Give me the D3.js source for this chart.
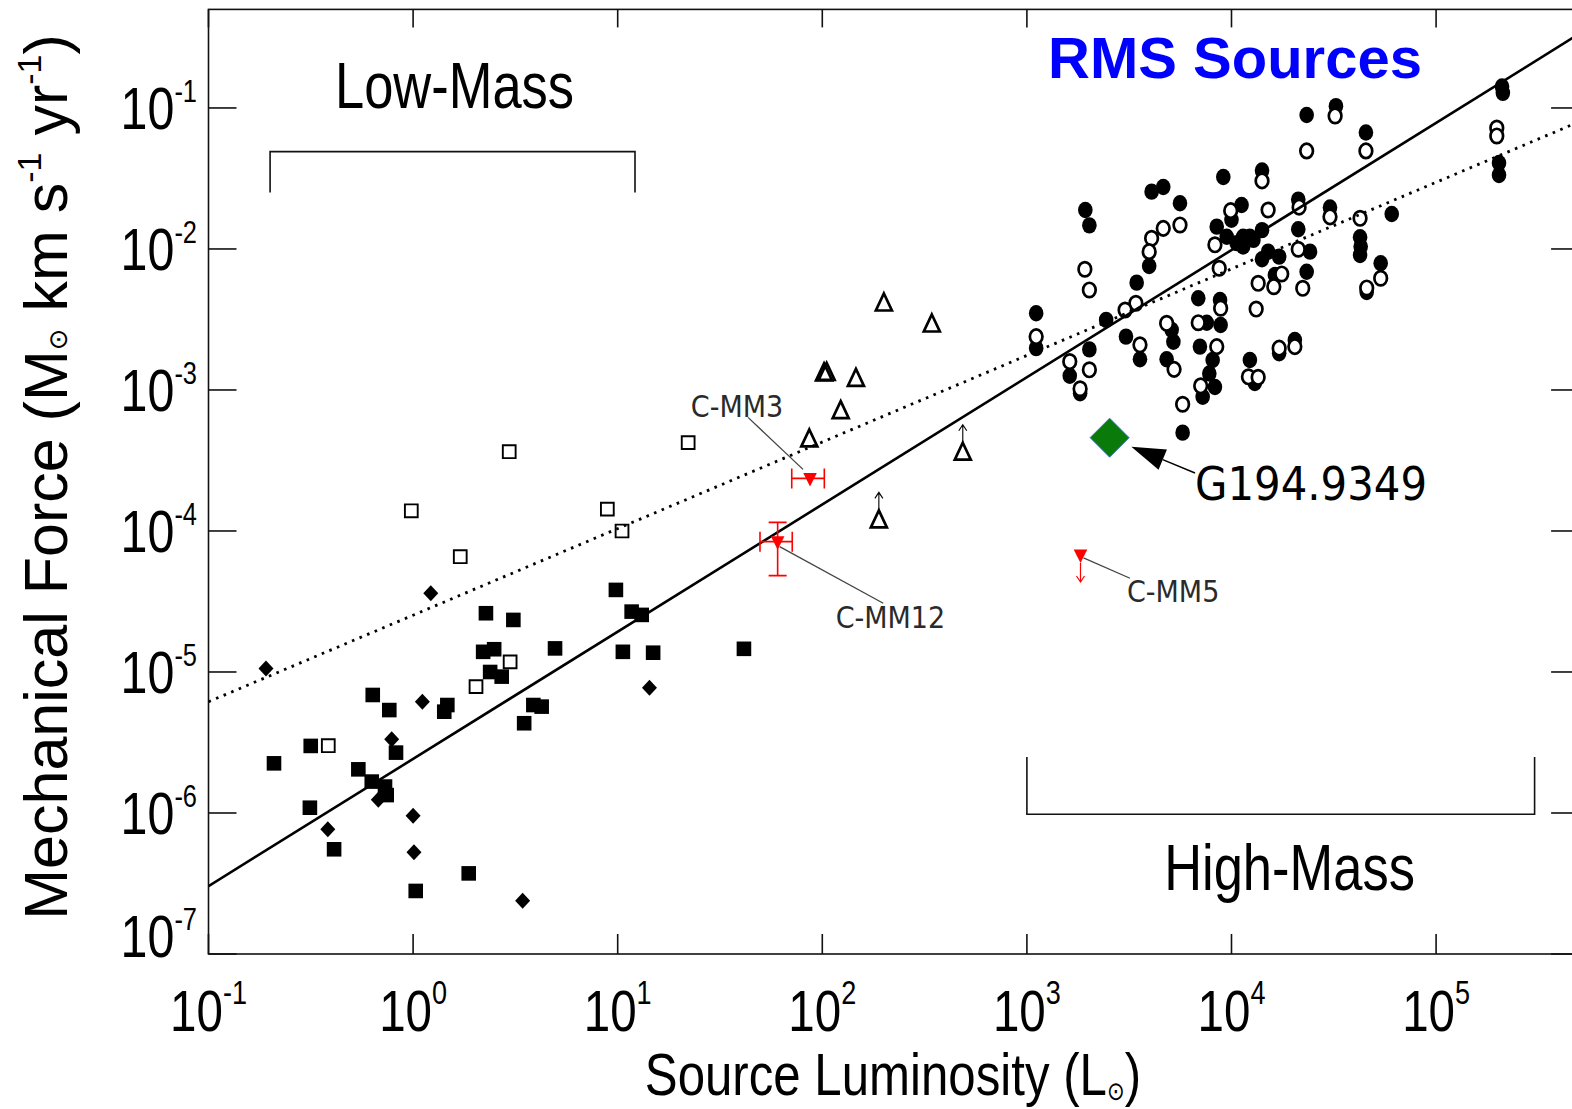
<!DOCTYPE html>
<html><head><meta charset="utf-8">
<script src="https://cdn.jsdelivr.net/npm/d3@7"></script>
<style>body{margin:0;background:#fff}svg{display:block}</style>
</head><body>
<svg id="c" width="1572" height="1109"></svg>
<script>
// ---------------- DATA ----------------
const xTickValues = [1e-1, 1e0, 1e1, 1e2, 1e3, 1e4, 1e5];
const yTickValues = [1e-7, 1e-6, 1e-5, 1e-4, 1e-3, 1e-2, 1e-1];

// Low-mass samples  [L (Lsun), F (Msun km/s/yr)]
const lowFilledSquares = [[9.8,3.82e-5],[11.7,2.68e-5],[13.1,2.54e-5],[10.6,1.39e-5],[14.9,1.37e-5],[2.27,2.61e-5],[3.09,2.34e-5],[2.20,1.39e-5],[2.49,1.45e-5],[2.38,1.0e-5],[2.71,9.27e-6],[4.94,1.47e-5],[0.635,6.87e-6],[0.765,5.37e-6],[1.42,5.23e-6],[1.47,5.83e-6],[3.87,5.83e-6],[4.25,5.68e-6],[3.49,4.33e-6],[0.316,2.99e-6],[0.209,2.25e-6],[0.825,2.68e-6],[0.540,2.04e-6],[0.628,1.67e-6],[0.729,1.54e-6],[0.743,1.34e-6],[0.313,1.09e-6],[0.411,5.53e-7],[1.87,3.73e-7],[1.03,2.80e-7],[41.4,1.46e-5]];
const lowOpenSquares = [[0.385,3.0e-6],[2.03,7.87e-6],[2.98,1.18e-5],[2.95,3.65e-4],[0.98,1.39e-4],[1.70,6.57e-5],[8.9,1.43e-4],[10.5,1.0e-4],[22.1,4.23e-4]];
const lowDiamonds = [[0.191,1.06e-5],[1.22,3.61e-5],[1.11,6.16e-6],[0.786,3.33e-6],[0.676,1.24e-6],[14.3,7.74e-6],[1.0,9.57e-7],[0.383,7.66e-7],[1.01,5.26e-7],[3.43,2.39e-7]];
// Intermediate-mass sample (open triangles), and lower limits
const midTriangles = [[200,4.07e-3],[343,2.89e-3],[105,1.31e-3],[102,1.30e-3],[146,1.19e-3],[123,7.02e-4],[86.4,4.42e-4]];
const midLowerLimits = [[486,3.56e-4],[189,1.18e-4]];

// RMS sources: filled and open circles
const rmsFilled = [[2.10e5,0.142],[2.12e5,0.128],[2.03e5,0.0407],[2.03e5,0.0335],[2.33e4,0.0892],[3.24e4,0.103],[4.54e4,0.0670],[9.12e3,0.0324],[1.41e4,0.0360],[4.07e3,0.0255],[4.64e3,0.0275],[5.60e3,0.0211],[1.93e3,0.0189],[2.02e3,0.0147],[2.12e4,0.0224],[3.03e4,0.0197],[6.07e4,0.0177],[4.25e4,0.0121],[4.28e4,0.0104],[4.25e4,0.00906],[5.36e4,0.00792],[4.58e4,0.00495],[1.12e4,0.0205],[8.47e3,0.0144],[9.48e3,0.0122],[1.06e4,0.0110],[1.14e4,0.0122],[1.28e4,0.0116],[1.41e4,0.0136],[1.23e4,0.0122],[1.14e4,0.0104],[2.12e4,0.0138],[2.42e4,0.00957],[1.51e4,0.00957],[1.71e4,0.00882],[1.41e4,0.00845],[1.63e4,0.00654],[2.33e4,0.00690],[3.96e3,0.00757],[3.44e3,0.00577],[2.44e3,0.00314],[1.11e3,0.00350],[1.11e3,0.00198],[2.02e3,0.00194],[1.62e3,0.00126],[1.82e3,0.000948],[3.05e3,0.00239],[3.57e3,0.00165],[5.10e3,0.00267],[5.20e3,0.00220],[4.82e3,0.00165],[6.88e3,0.00447],[7.57e3,0.00300],[8.79e3,0.00435],[8.85e3,0.00289],[7.01e3,0.00203],[8.09e3,0.00163],[7.79e3,0.00131],[8.30e3,0.00105],[7.23e3,0.000896],[5.77e3,0.000498],[1.23e4,0.00163],[1.30e4,0.00112],[1.71e4,0.00182],[2.04e4,0.00226],[1.00e4,0.0161]];
const rmsOpen = [[1.98e5,0.0721],[1.98e5,0.0633],[3.21e4,0.0878],[4.54e4,0.0496],[2.33e4,0.0496],[1.41e4,0.0304],[1.51e4,0.0189],[2.14e4,0.0198],[3.03e4,0.0169],[4.25e4,0.0165],[5.36e4,0.00620],[4.58e4,0.00529],[9.91e3,0.0187],[8.30e3,0.0107],[8.71e3,0.00730],[1.35e4,0.00571],[1.32e4,0.00375],[2.12e4,0.00995],[1.76e4,0.00665],[1.61e4,0.00540],[2.23e4,0.00526],[5.60e3,0.0148],[4.64e3,0.0140],[4.07e3,0.0119],[3.96e3,0.00957],[1.92e3,0.00718],[2.02e3,0.00512],[3.41e3,0.00412],[3.02e3,0.00369],[1.11e3,0.00239],[1.62e3,0.00159],[2.02e3,0.00139],[1.82e3,0.00102],[3.57e3,0.00209],[4.82e3,0.00297],[5.24e3,0.00140],[6.88e3,0.00300],[8.85e3,0.00380],[8.47e3,0.00203],[7.07e3,0.00107],[5.77e3,0.000792],[1.21e4,0.00124],[1.35e4,0.00123],[1.71e4,0.00198],[2.04e4,0.00203]];

// Red cores (this work)
const coreNames = ['C-MM3', 'C-MM12', 'C-MM5'];
const coreL     = [87.1, 60.5, 1828];
const coreF     = [2.36e-4, 8.4e-5, 6.76e-5];
const coreLerr  = [[70.9, 102.3], [49.6, 71.3], null];
const coreFerr  = [null, [4.82e-5, 1.15e-4], null];
const coreUpper = [false, false, true];

// Highlighted source
const g194Name = 'G194.9349';
const g194 = [2537, 4.59e-4];

// Fit lines (end points)
const fitSolid  = [[0.1, 3.03e-7], [5e5, 0.335]];
const fitDotted = [[0.1, 6.15e-6], [5e5, 0.0798]];

// Mass-regime brackets
const lowMassRange  = [0.2, 12.15];
const highMassRange = [1e3, 3.03e5];

// ---------------- CHART ----------------
const svg = d3.select('#c');
const X0 = 208.5, X1 = 1579.1, Y0 = 954, Y1 = 9.4;
const x = d3.scaleLog().domain([0.1, 5e5]).range([X0, X1]);
const y = d3.scaleLog().domain([1e-7, 0.5]).range([Y0, Y1]);

function hasFont(fam, expectedMax){
  const t = svg.append('text').attr('font-family', fam).attr('font-size', 100).text('0000000000');
  const w = t.node().getComputedTextLength(); t.remove(); return w < expectedMax;
}
const NAR = hasFont("'Liberation Sans Narrow'", 500);
const NF = NAR ? "'Liberation Sans Narrow'" : "'Liberation Sans', Arial, sans-serif";
const SX = NAR ? 1 : 0.82;
function ntext(parent, px, py, anchor, size){
  return parent.append('g').attr('transform', `translate(${px},${py}) scale(${SX},1)`)
    .append('text').attr('text-anchor', anchor).attr('font-family', NF)
    .attr('font-size', size).attr('fill', '#000');
}

svg.append('rect').attr('width', 1572).attr('height', 1109).attr('fill', '#fff');

svg.append('defs').append('clipPath').attr('id', 'clip')
  .append('rect').attr('x', X0).attr('y', Y1).attr('width', X1 - X0).attr('height', Y0 - Y1);

// Axes frame and ticks
const ax = svg.append('g').attr('stroke', '#111').attr('stroke-width', 1.6).attr('fill', 'none');
ax.append('rect').attr('x', X0).attr('y', Y1).attr('width', X1 - X0).attr('height', Y0 - Y1);
xTickValues.forEach(t => {
  const px = x(t);
  ax.append('line').attr('x1', px).attr('x2', px).attr('y1', Y0).attr('y2', Y0 - 20);
  ax.append('line').attr('x1', px).attr('x2', px).attr('y1', Y1).attr('y2', Y1 + 18);
});
yTickValues.forEach(t => {
  const py = y(t);
  ax.append('line').attr('x1', X0).attr('x2', X0 + 28).attr('y1', py).attr('y2', py);
  ax.append('line').attr('x1', X1).attr('x2', X1 - 28).attr('y1', py).attr('y2', py);
});

// Tick labels
xTickValues.forEach(t => {
  const e = Math.round(Math.log10(t));
  const tx = ntext(svg, x(t), 1031, 'middle', 58);
  tx.append('tspan').text('10');
  tx.append('tspan').attr('font-size', 33).attr('dy', -27).text(String(e));
});
yTickValues.forEach((t, i) => {
  const e = Math.round(Math.log10(t));
  const base = (i === 0) ? y(t) + 3 : y(t) + 21;
  const tx = ntext(svg, 197, base, 'end', 59);
  tx.append('tspan').text('10');
  tx.append('tspan').attr('font-size', 31).attr('dy', -27).text(String(e));
});

// Axis titles
const xt = ntext(svg, 893, 1095, 'middle', 60);
xt.append('tspan').text('Source Luminosity (L');
xt.append('tspan').attr('font-size', 26).attr('dy', 5).attr('font-family', "'DejaVu Sans'").text('\u2299');
xt.append('tspan').attr('dy', -5).text(')');

const yt = svg.append('text').attr('transform', 'translate(67,477) rotate(-90)')
  .attr('text-anchor', 'middle').attr('font-family', "'Liberation Sans', Arial, sans-serif")
  .attr('font-size', 61).attr('fill', '#000');
yt.append('tspan').text('Mechanical Force (M');
yt.append('tspan').attr('font-size', 26).attr('font-family', "'DejaVu Sans'").text('\u2299');
yt.append('tspan').text(' km s');
yt.append('tspan').attr('font-size', 34).attr('dy', -26).text('-1');
yt.append('tspan').attr('dy', 26).text(' yr');
yt.append('tspan').attr('font-size', 34).attr('dy', -26).text('-1');
yt.append('tspan').attr('dy', 26).text(')');

// Regime brackets and labels
const br = svg.append('g').attr('stroke', '#111').attr('stroke-width', 1.6).attr('fill', 'none');
br.append('path').attr('d', `M${x(lowMassRange[0])},${y(0.0251)}V${y(0.049)}H${x(lowMassRange[1])}V${y(0.0251)}`);
br.append('path').attr('d', `M${x(highMassRange[0])},${y(2.5e-6)}V${y(9.8e-7)}H${x(highMassRange[1])}V${y(2.5e-6)}`);
ntext(svg, 454.5, 108, 'middle', 64).text('Low-Mass');
ntext(svg, 1289.5, 890, 'middle', 64).text('High-Mass');

svg.append('text').attr('x', 1235).attr('y', 78).attr('text-anchor', 'middle')
  .attr('font-family', "'Liberation Sans', Arial, sans-serif").attr('font-weight', 'bold')
  .attr('font-size', 58).attr('fill', '#0000ff').text('RMS Sources');

// Markers
const plot = svg.append('g').attr('clip-path', 'url(#clip)');
const sq = s => `M${-s},${-s}H${s}V${s}H${-s}Z`;
const dia = (w, h) => `M0,${-h}L${w},0L0,${h}L${-w},0Z`;
const triUp = 'M0,-10.5L8,6.5L-8,6.5Z';
const triDown = 'M-6.8,-5.5L6.8,-5.5L0,8Z';
const tr = d => `translate(${x(d[0])},${y(d[1])})`;

plot.selectAll('.fs').data(lowFilledSquares).join('path').attr('d', sq(7.3)).attr('transform', tr).attr('fill', '#000');
plot.selectAll('.os').data(lowOpenSquares).join('path').attr('d', sq(6.4)).attr('transform', tr)
  .attr('fill', 'none').attr('stroke', '#000').attr('stroke-width', 1.9);
plot.selectAll('.dm').data(lowDiamonds).join('path').attr('d', dia(7.5, 8)).attr('transform', tr).attr('fill', '#000');
plot.selectAll('.tri').data(midTriangles.concat(midLowerLimits)).join('path').attr('d', triUp).attr('transform', tr)
  .attr('fill', 'none').attr('stroke', '#000').attr('stroke-width', 2.7).attr('stroke-linejoin', 'miter');
midLowerLimits.forEach(d => {
  const px = x(d[0]), py = y(d[1]) - 10.5;
  plot.append('path').attr('d', `M${px},${py}V${py - 18}M${px - 4},${py - 12}L${px},${py - 18}L${px + 4},${py - 12}`)
    .attr('fill', 'none').attr('stroke', '#000').attr('stroke-width', 1.1);
});

plot.selectAll('.rf').data(rmsFilled).join('ellipse').attr('cx', d => x(d[0])).attr('cy', d => y(d[1]))
  .attr('rx', 7.3).attr('ry', 8.2).attr('fill', '#000');
plot.selectAll('.ro').data(rmsOpen).join('ellipse').attr('cx', d => x(d[0])).attr('cy', d => y(d[1]))
  .attr('rx', 6.3).attr('ry', 7.2).attr('fill', '#fff').attr('stroke', '#000').attr('stroke-width', 2.7);

// Fit lines
const line = d3.line().x(d => x(d[0])).y(d => y(d[1]));
plot.append('path').attr('d', line(fitSolid)).attr('stroke', '#000').attr('stroke-width', 2.6).attr('fill', 'none');
plot.append('path').attr('d', line(fitDotted)).attr('stroke', '#000').attr('stroke-width', 2.8)
  .attr('stroke-dasharray', '2.6,5.6').attr('fill', 'none');

// Red cores with error bars
const red = '#ff0000';
coreNames.forEach((n, i) => {
  const px = x(coreL[i]), py = y(coreF[i]);
  const g = plot.append('g').attr('stroke', red).attr('stroke-width', 1.6).attr('fill', 'none');
  if (coreLerr[i]) {
    const a = x(coreLerr[i][0]), b = x(coreLerr[i][1]);
    g.append('path').attr('d', `M${a},${py}H${b}M${a},${py - 10}V${py + 10}M${b},${py - 10}V${py + 10}`);
  }
  if (coreFerr[i]) {
    const a = y(coreFerr[i][0]), b = y(coreFerr[i][1]);
    g.append('path').attr('d', `M${px},${a}V${b}M${px - 9},${a}H${px + 9}M${px - 9},${b}H${px + 9}`);
  }
  if (coreUpper[i]) {
    const t = py + 8;
    g.append('path').attr('d', `M${px},${t}V${t + 19}M${px - 4},${t + 13}L${px},${t + 19}L${px + 4},${t + 13}`).attr('stroke-width', 1.2);
  }
  plot.append('path').attr('d', triDown).attr('transform', `translate(${px},${py})`).attr('fill', red);
});

// Core labels with leader lines (offsets in px from the point)
const labelFont = "'DejaVu Sans Condensed','DejaVu Sans',sans-serif";
const coreLabelPos = [
  {tx: -73, ty: -61.5, anchor: 'middle', l: [-62, -61, -7, -9]},
  {tx: 58, ty: 86.6, anchor: 'start', l: [2, 5, 105.6, 61.6]},
  {tx: 46.5, ty: 46.7, anchor: 'start', l: [3, 3, 49.5, 23.3]}
];
coreNames.forEach((n, i) => {
  const px = x(coreL[i]), py = y(coreF[i]), p = coreLabelPos[i];
  svg.append('line').attr('x1', px + p.l[0]).attr('y1', py + p.l[1]).attr('x2', px + p.l[2]).attr('y2', py + p.l[3])
    .attr('stroke', '#444').attr('stroke-width', 1.3);
  svg.append('text').attr('x', px + p.tx).attr('y', py + p.ty).attr('text-anchor', p.anchor)
    .attr('font-family', labelFont).attr('font-stretch', 'condensed').attr('font-size', 30).attr('fill', '#2a2a2a').text(n);
});

// G194.9349 highlight
const gx = x(g194[0]), gy = y(g194[1]);
svg.append('path').attr('d', dia(19.5, 19.5)).attr('transform', `translate(${gx},${gy})`)
  .attr('fill', '#0a7a0a').attr('stroke', '#3f6fcf').attr('stroke-width', 1);
{
  const tipx = gx + 21.7, tipy = gy + 9, tailx = gx + 85.4, taily = gy + 35.3;
  const ang = Math.atan2(taily - tipy, tailx - tipx);
  const hl = 34, hw = 11;
  const bx = tipx + hl * Math.cos(ang), by = tipy + hl * Math.sin(ang);
  const nx = -Math.sin(ang), ny = Math.cos(ang);
  svg.append('line').attr('x1', bx).attr('y1', by).attr('x2', tailx).attr('y2', taily).attr('stroke', '#000').attr('stroke-width', 1.5);
  svg.append('path').attr('d', `M${tipx},${tipy}L${bx + nx * hw},${by + ny * hw}L${bx - nx * hw},${by - ny * hw}Z`).attr('fill', '#000');
}
svg.append('text').attr('x', gx + 85.4).attr('y', gy + 62.3).attr('font-family', labelFont)
  .attr('font-stretch', 'condensed').attr('font-size', 46.5).attr('fill', '#000').text(g194Name);
</script>
</body></html>
